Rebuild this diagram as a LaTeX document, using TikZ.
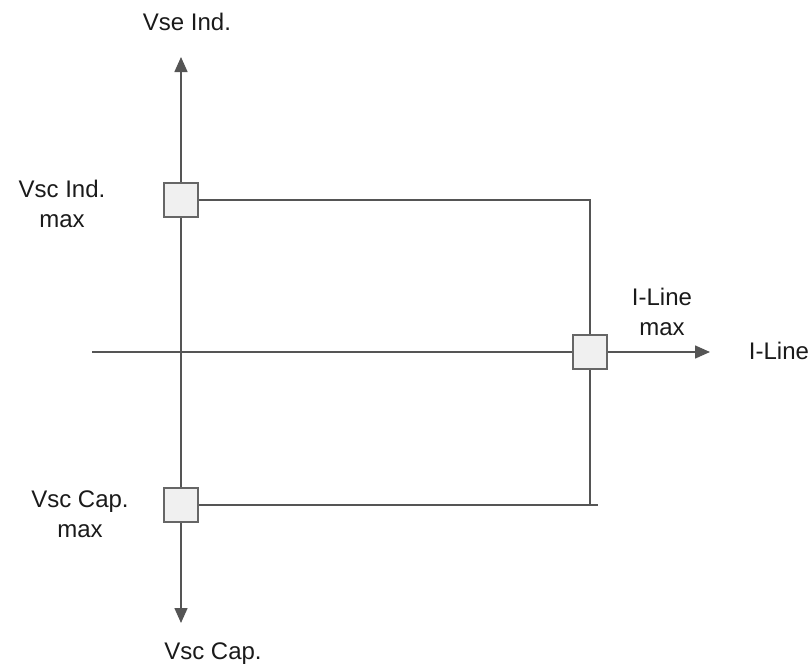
\documentclass[tikz,border=0pt]{standalone}
\usepackage{fontspec}
\setmainfont{Liberation Sans}
\usetikzlibrary{arrows.meta}
\definecolor{linec}{HTML}{555555}
\definecolor{boxc}{HTML}{666666}
\definecolor{boxf}{HTML}{F0F0F0}
\definecolor{txtc}{HTML}{1A1A1A}
\begin{document}
\begin{tikzpicture}[x=1pt,y=-1pt,
  axis/.style={draw=linec,line width=1.5pt},
  tip/.style={-{Triangle[length=15pt,width=13pt]}},
  marker/.style={draw=boxc,fill=boxf,line width=2pt,minimum size=34pt,inner sep=0pt},
  lbl/.style={text=txtc,font=\fontsize{24}{30.5}\selectfont,inner sep=0pt,align=center}]
\useasboundingbox (0,0) rectangle (812,667);
% axis end points
\coordinate (vtop) at (181,57);
\coordinate (vbot) at (181,623);
\coordinate (hleft) at (92,352);
\coordinate (hright) at (710,352);
\coordinate (tr) at (590,200);
\coordinate (br) at (590,505);
\coordinate (bend) at (598,505);
% axes
\draw[axis,tip] (181,352) -- (vtop);
\draw[axis,tip] (181,352) -- (vbot);
\draw[axis,tip] (hleft) -- (hright);
% markers
\node[marker] (b1) at (181,200) {};
\node[marker] (b3) at (181,505) {};
% rectangle lines
\draw[axis] (b1.east) -- (tr) -- (br);
\draw[axis] (b3.east) -- (bend);
\node[marker] (b2) at (590,352) {};
% labels
\node[lbl,anchor=base] (tvse) at (187,30) {Vse Ind.};
\node[lbl,anchor=north] (tvscind) at (62,179.5) {Vsc Ind.\\max};
\node[lbl,anchor=north] (tvsccapm) at (80,490.5) {Vsc Cap.\\max};
\node[lbl,anchor=base] (tvsccap) at (213,659) {Vsc Cap.};
\node[lbl,anchor=north] (tilmax) at (662,287.5) {I-Line\\max};
\node[lbl,anchor=base] (til) at (779,359) {I-Line};
\end{tikzpicture}
\end{document}
